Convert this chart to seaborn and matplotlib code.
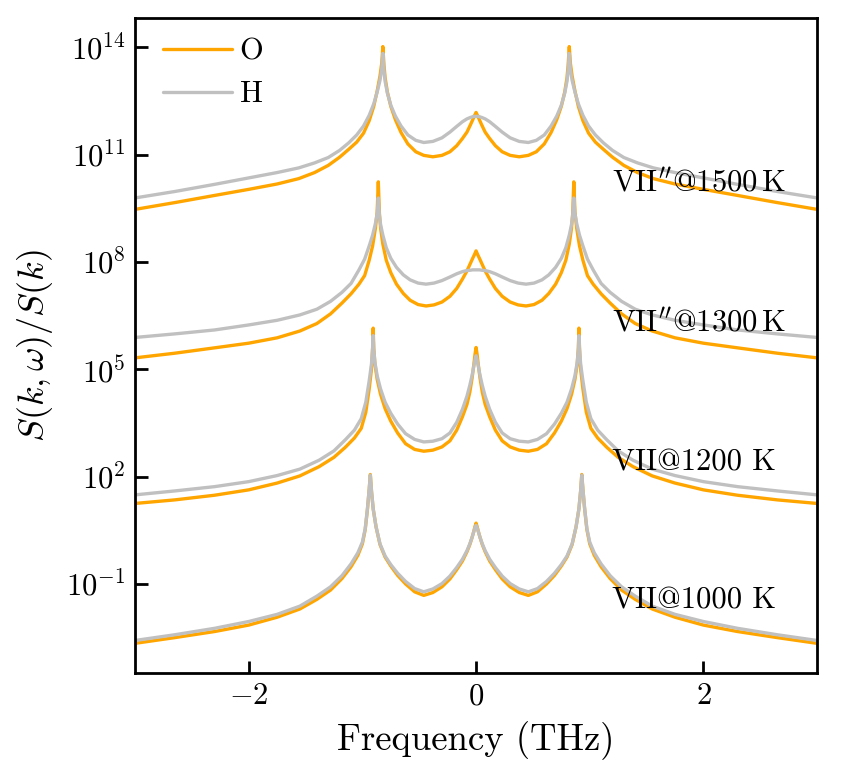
import numpy as np
import matplotlib
matplotlib.use("Agg")
import matplotlib.pyplot as plt
import seaborn as sns

# ---- data: log10 of S(k,w)/S(k) ----
x_1500 = [-3.0, -2.65, -2.3, -2.0, -1.75, -1.56, -1.42, -1.3, -1.2, -1.12,
          -1.05, -0.99, -0.94, -0.9, -0.87, -0.845, -0.83, -0.82, -0.81, -0.80,
          -0.78, -0.75, -0.71, -0.66, -0.60, -0.53, -0.46, -0.38, -0.30, -0.23,
          -0.17, -0.12, -0.08, -0.05, -0.03, -0.015, 0.0,
          0.015, 0.03, 0.05, 0.08, 0.12, 0.17, 0.23, 0.30, 0.38, 0.46,
          0.53, 0.60, 0.66, 0.71, 0.75, 0.78, 0.80, 0.81, 0.82, 0.83,
          0.845, 0.87, 0.9, 0.94, 0.99, 1.05, 1.12, 1.2, 1.3, 1.42,
          1.56, 1.75, 2.0, 2.3, 2.65, 3.0]
o_1500_log = [9.47, 9.66, 9.86, 10.03, 10.18, 10.33, 10.5, 10.7, 10.93, 11.15,
              11.35, 11.6, 11.95, 12.35, 12.78, 13.2, 13.55, 14.02, 13.5, 13.15,
              12.75, 12.35, 11.98, 11.62, 11.30, 11.08, 10.98, 10.94, 10.98, 11.08,
              11.25, 11.45, 11.63, 11.83, 11.97, 12.08, 12.18,
              12.08, 11.97, 11.83, 11.63, 11.45, 11.25, 11.08, 10.98, 10.94, 10.98,
              11.08, 11.30, 11.62, 11.98, 12.35, 12.75, 13.15, 13.5, 14.02, 13.55,
              13.2, 12.78, 12.35, 11.95, 11.6, 11.35, 11.15, 10.93, 10.7, 10.5,
              10.33, 10.18, 10.03, 9.86, 9.66, 9.47]
h_1500_log = [9.79, 9.97, 10.17, 10.35, 10.5, 10.63, 10.77, 10.92, 11.12, 11.33,
              11.55, 11.8, 12.1, 12.42, 12.75, 13.08, 13.38, 13.83, 13.35, 13.05,
              12.72, 12.38, 12.08, 11.8, 11.55, 11.40, 11.34, 11.37, 11.47, 11.63,
              11.79, 11.92, 12.0, 12.04, 12.06, 12.07, 12.07,
              12.07, 12.06, 12.04, 12.0, 11.92, 11.79, 11.63, 11.47, 11.37, 11.34,
              11.40, 11.55, 11.8, 12.08, 12.38, 12.72, 13.05, 13.35, 13.83, 13.38,
              13.08, 12.75, 12.42, 12.1, 11.8, 11.55, 11.33, 11.12, 10.92, 10.77,
              10.63, 10.5, 10.35, 10.17, 9.97, 9.79]

x_1300 = [-3.0, -2.65, -2.3, -2.0, -1.75, -1.55, -1.4, -1.28, -1.18, -1.1,
          -1.03, -0.98, -0.94, -0.91, -0.885, -0.87, -0.86, -0.85, -0.84, -0.82,
          -0.79, -0.75, -0.70, -0.64, -0.58, -0.51, -0.44, -0.37, -0.30, -0.23,
          -0.17, -0.12, -0.08, -0.05, -0.03, -0.015, 0.0,
          0.015, 0.03, 0.05, 0.08, 0.12, 0.17, 0.23, 0.30, 0.37, 0.44,
          0.51, 0.58, 0.64, 0.70, 0.75, 0.79, 0.82, 0.84, 0.85, 0.86,
          0.87, 0.885, 0.91, 0.94, 0.98, 1.03, 1.1, 1.18, 1.28, 1.4,
          1.55, 1.75, 2.0, 2.3, 2.65, 3.0]
o_1300_log = [5.32, 5.45, 5.6, 5.73, 5.88, 6.07, 6.28, 6.55, 6.85, 7.11,
              7.38, 7.62, 8.05, 8.45, 8.95, 9.4, 10.24, 9.35, 8.95, 8.5,
              8.05, 7.7, 7.38, 7.12, 6.93, 6.81, 6.77, 6.80, 6.88, 7.04,
              7.26, 7.52, 7.75, 7.96, 8.1, 8.2, 8.31,
              8.2, 8.1, 7.96, 7.75, 7.52, 7.26, 7.04, 6.88, 6.80, 6.77,
              6.81, 6.93, 7.12, 7.38, 7.7, 8.05, 8.5, 8.95, 9.35, 10.24,
              9.4, 8.95, 8.45, 8.05, 7.62, 7.38, 7.11, 6.85, 6.55, 6.28,
              6.07, 5.88, 5.73, 5.6, 5.45, 5.32]
h_1300_log = [5.89, 5.99, 6.1, 6.24, 6.37, 6.52, 6.68, 6.9, 7.15, 7.4,
              7.78, 8.08, 8.45, 8.75, 9.08, 9.35, 9.79, 9.3, 9.05, 8.75,
              8.4, 8.1, 7.85, 7.64, 7.5, 7.41, 7.38, 7.41, 7.48, 7.58,
              7.67, 7.73, 7.76, 7.77, 7.78, 7.78, 7.78,
              7.78, 7.78, 7.77, 7.76, 7.73, 7.67, 7.58, 7.48, 7.41, 7.38,
              7.41, 7.5, 7.64, 7.85, 8.1, 8.4, 8.75, 9.05, 9.3, 9.79,
              9.35, 9.08, 8.75, 8.45, 8.08, 7.78, 7.4, 7.15, 6.9, 6.68,
              6.52, 6.37, 6.24, 6.1, 5.99, 5.89]

x_1200 = [-3.0, -2.65, -2.3, -2.0, -1.75, -1.55, -1.38, -1.25, -1.15, -1.07,
          -1.01, -0.97, -0.94, -0.92, -0.91, -0.905, -0.90, -0.89, -0.87, -0.84,
          -0.80, -0.75, -0.69, -0.62, -0.54, -0.46, -0.38, -0.30, -0.23, -0.17,
          -0.12, -0.08, -0.055, -0.035, -0.02, -0.01, 0.0,
          0.01, 0.02, 0.035, 0.055, 0.08, 0.12, 0.17, 0.23, 0.30, 0.38,
          0.46, 0.54, 0.62, 0.69, 0.75, 0.80, 0.84, 0.87, 0.89, 0.90,
          0.905, 0.91, 0.92, 0.94, 0.97, 1.01, 1.07, 1.15, 1.25, 1.38,
          1.55, 1.75, 2.0, 2.3, 2.65, 3.0]
o_1200_log = [1.25, 1.35, 1.48, 1.63, 1.82, 2.02, 2.28, 2.54, 2.82, 3.08,
              3.35, 3.8, 4.45, 5.0, 5.6, 6.15, 5.6, 5.15, 4.72, 4.3,
              3.9, 3.55, 3.22, 2.92, 2.76, 2.71, 2.74, 2.83, 3.0, 3.3,
              3.67, 4.02, 4.36, 4.75, 5.12, 5.4, 5.61,
              5.4, 5.12, 4.75, 4.36, 4.02, 3.67, 3.3, 3.0, 2.83, 2.74,
              2.71, 2.76, 2.92, 3.22, 3.55, 3.9, 4.3, 4.72, 5.15, 5.6,
              6.15, 5.6, 5.0, 4.45, 3.8, 3.35, 3.08, 2.82, 2.54, 2.28,
              2.02, 1.82, 1.63, 1.48, 1.35, 1.25]
h_1200_log = [1.49, 1.6, 1.72, 1.86, 2.03, 2.21, 2.46, 2.72, 3.03, 3.3,
              3.62, 4.08, 4.68, 5.15, 5.58, 5.94, 5.55, 5.2, 4.82, 4.45,
              4.08, 3.77, 3.47, 3.2, 3.04, 2.97, 2.99, 3.06, 3.22, 3.52,
              3.88, 4.25, 4.55, 4.83, 5.08, 5.25, 5.38,
              5.25, 5.08, 4.83, 4.55, 4.25, 3.88, 3.52, 3.22, 3.06, 2.99,
              2.97, 3.04, 3.2, 3.47, 3.77, 4.08, 4.45, 4.82, 5.2, 5.55,
              5.94, 5.58, 5.15, 4.68, 4.08, 3.62, 3.3, 3.03, 2.72, 2.46,
              2.21, 2.03, 1.86, 1.72, 1.6, 1.49]

x_1000 = [-3.0, -2.65, -2.3, -2.0, -1.75, -1.55, -1.4, -1.28, -1.18, -1.1,
          -1.04, -1.0, -0.975, -0.955, -0.94, -0.93, -0.92, -0.905, -0.88, -0.845,
          -0.80, -0.75, -0.69, -0.62, -0.54, -0.46, -0.38, -0.30, -0.23, -0.17,
          -0.12, -0.08, -0.055, -0.035, -0.02, -0.01, 0.0,
          0.01, 0.02, 0.035, 0.055, 0.08, 0.12, 0.17, 0.23, 0.30, 0.38,
          0.46, 0.54, 0.62, 0.69, 0.75, 0.80, 0.845, 0.88, 0.905, 0.92,
          0.93, 0.94, 0.955, 0.975, 1.0, 1.04, 1.1, 1.18, 1.28, 1.4,
          1.55, 1.75, 2.0, 2.3, 2.65, 3.0]
o_1000_log = [-2.66, -2.5, -2.33, -2.15, -1.93, -1.7, -1.43, -1.17, -0.85, -0.52,
              -0.2, 0.12, 0.52, 1.1, 1.65, 2.06, 1.6, 1.1, 0.6, 0.1,
              -0.25, -0.5, -0.76, -1.0, -1.22, -1.32, -1.24, -1.08, -0.86, -0.6,
              -0.36, -0.1, 0.1, 0.3, 0.47, 0.6, 0.70,
              0.6, 0.47, 0.3, 0.1, -0.1, -0.36, -0.6, -0.86, -1.08, -1.24,
              -1.32, -1.22, -1.0, -0.76, -0.5, -0.25, 0.1, 0.6, 1.1, 1.6,
              2.06, 1.65, 1.1, 0.52, 0.12, -0.2, -0.52, -0.85, -1.17, -1.43,
              -1.7, -1.93, -2.15, -2.33, -2.5, -2.66]
h_1000_log = [-2.58, -2.42, -2.24, -2.05, -1.85, -1.62, -1.34, -1.08, -0.77, -0.44,
              -0.13, 0.17, 0.55, 1.12, 1.65, 2.04, 1.6, 1.1, 0.6, 0.12,
              -0.22, -0.46, -0.7, -0.93, -1.13, -1.22, -1.14, -0.99, -0.78, -0.54,
              -0.31, -0.07, 0.12, 0.3, 0.46, 0.57, 0.64,
              0.57, 0.46, 0.3, 0.12, -0.07, -0.31, -0.54, -0.78, -0.99, -1.14,
              -1.22, -1.13, -0.93, -0.7, -0.46, -0.22, 0.12, 0.6, 1.1, 1.6,
              2.04, 1.65, 1.12, 0.55, 0.17, -0.13, -0.44, -0.77, -1.08, -1.34,
              -1.62, -1.85, -2.05, -2.24, -2.42, -2.58]

series_labels = ["O", "H"]
phase_labels = [r"VII$''$@1500$\,$K", r"VII$''$@1300$\,$K",
                r"VII@1200 K", r"VII@1000 K"]
label_y_log = [10.22, 6.32, 2.4, -1.48]
y_ticks = [1e-1, 1e2, 1e5, 1e8, 1e11, 1e14]
x_ticks = [-2, 0, 2]

# ---- style ----
sns.set_style("white")
plt.rcParams["font.family"] = ["cmr10", "DejaVu Serif"]
plt.rcParams["mathtext.fontset"] = "cm"
plt.rcParams["axes.formatter.use_mathtext"] = True
for key in ["text.color", "axes.labelcolor", "xtick.color", "ytick.color",
            "axes.edgecolor"]:
    plt.rcParams[key] = "black"

c_O = "#FFA500"
c_H = "#C0C0C0"

fig = plt.figure(figsize=(4.26, 3.845), dpi=200)
ax = fig.add_axes([0.1585, 0.1248, 0.959 - 0.1585, 0.9766 - 0.1248])

groups = [(x_1500, o_1500_log, h_1500_log), (x_1300, o_1300_log, h_1300_log),
          (x_1200, o_1200_log, h_1200_log), (x_1000, o_1000_log, h_1000_log)]
for i, (xs, ol, hl) in enumerate(groups):
    sns.lineplot(x=np.array(xs), y=10.0 ** np.array(ol), ax=ax, color=c_O, lw=1.2,
                 label=series_labels[0] if i == 0 else None, estimator=None,
                 sort=False)
for i, (xs, ol, hl) in enumerate(groups):
    sns.lineplot(x=np.array(xs), y=10.0 ** np.array(hl), ax=ax, color=c_H, lw=1.2,
                 label=series_labels[1] if i == 0 else None, estimator=None,
                 sort=False)

ax.set_yscale("log")
ax.set_xlim(-3, 3)
ax.set_ylim(10 ** -3.49, 10 ** 14.82)
ax.set_yticks(y_ticks)
ax.set_xticks(x_ticks)
ax.minorticks_off()
ax.tick_params(direction="in", length=4.5, width=1.0, labelsize=11,
               left=True, bottom=True, top=False, right=False)
for s in ax.spines.values():
    s.set_linewidth(1.0)
    s.set_color("black")

ax.set_xlabel("Frequency (THz)", fontsize=13.2)
ax.set_ylabel(r"$S(k,\omega)/S(k)$", fontsize=13)

for lab, yl in zip(phase_labels, label_y_log):
    ax.text(1.2, 10 ** yl, lab, fontsize=11, va="center", ha="left")

ax.legend(loc="upper left", bbox_to_anchor=(0.0235, 0.988), frameon=False,
          fontsize=11, handlelength=2.25, handletextpad=0.25,
          borderaxespad=0.0, labelspacing=0.5)

fig.savefig("out.png", dpi=200)
